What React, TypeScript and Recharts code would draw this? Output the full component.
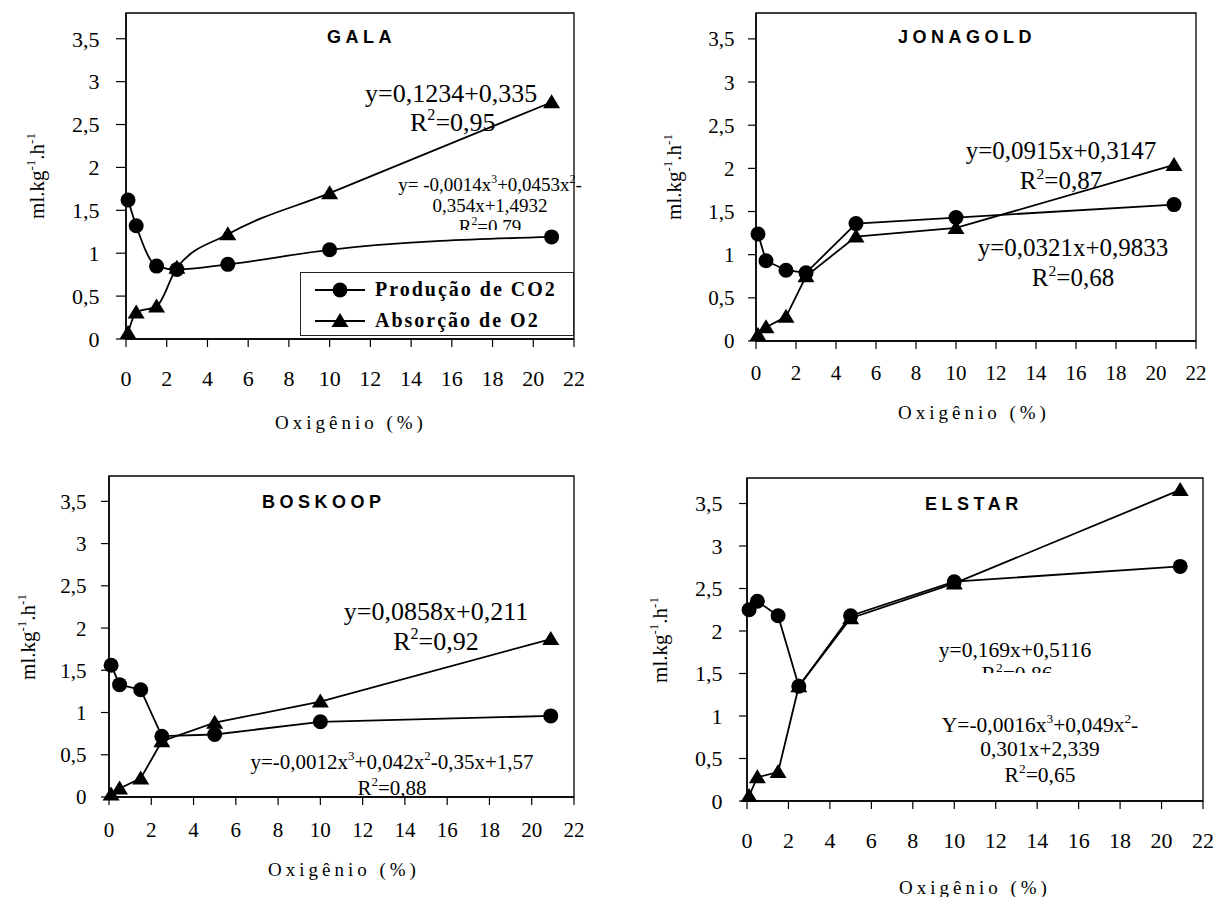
import React from "react";
import { LineChart, Line, XAxis, YAxis, ReferenceArea, Legend } from "recharts";

// oxygen levels (%) shared by all four cultivars
const oxygen = [0.1, 0.5, 1.5, 2.5, 5, 10, 20.9];

const galaCO2 = [1.62, 1.32, 0.85, 0.81, 0.87, 1.04, 1.19];
const galaO2 = [0.07, 0.31, 0.38, 0.83, 1.22, 1.7, 2.76];
const jonagoldCO2 = [1.24, 0.93, 0.82, 0.79, 1.36, 1.43, 1.58];
const jonagoldO2 = [0.07, 0.16, 0.28, 0.75, 1.21, 1.31, 2.04];
const boskoopCO2 = [1.56, 1.33, 1.27, 0.72, 0.74, 0.89, 0.96];
const boskoopO2 = [0.03, 0.1, 0.22, 0.66, 0.88, 1.13, 1.87];
const elstarCO2 = [2.25, 2.35, 2.18, 1.35, 2.18, 2.58, 2.76];
const elstarO2 = [0.06, 0.28, 0.34, 1.35, 2.15, 2.56, 3.66];

const xTicks = [0, 2, 4, 6, 8, 10, 12, 14, 16, 18, 20, 22];
const yTicks = [0, 0.5, 1, 1.5, 2, 2.5, 3, 3.5];
const yMax = 3.8;

const co2Name = "Produção de CO2";
const o2Name = "Absorção de O2";
const xTitle = "Oxigênio (%)";
const yTitle = "ml.kg^-1^.h^-1^";

const serif = '"Liberation Serif", "Times New Roman", serif';
const sans = '"Liberation Sans", Arial, sans-serif';

type Note = { text: string; x: number; y: number; size: number; anchor?: "start" | "middle"; clipY?: number };

type Panel = {
  name: string;
  co2: number[];
  o2: number[];
  curve: "linear" | "monotone";
  box: { left: number; top: number; width: number; height: number };
  margin: { top: number; right: number; left: number; bottom: number };
  yWidth: number;
  xHeight: number;
  tickFont: number;
  xTickMargin: number;
  yTickSize: number;
  yTickMargin: number;
  title: { x: number; y: number };
  xTitle: { x: number; y: number };
  yTitle: { x: number; y: number };
  notes: Note[];
  legend?: boolean;
};

const panels: Panel[] = [
  {
    name: "GALA",
    co2: galaCO2,
    o2: galaO2,
    curve: "monotone",
    box: { left: 0, top: 0, width: 609, height: 448 },
    margin: { top: 13, right: 35, left: 0, bottom: 9 },
    yWidth: 126,
    xHeight: 100,
    tickFont: 22,
    xTickMargin: 23.5,
    yTickSize: 10,
    yTickMargin: 16.5,
    title: { x: 327, y: 43 },
    xTitle: { x: 275, y: 429 },
    yTitle: { x: 44, y: 176 },
    legend: true,
    notes: [
      { text: "y=0,1234+0,335", x: 365, y: 102, size: 26, anchor: "start" },
      { text: "R^2^=0,95", x: 410, y: 131, size: 26, anchor: "start" },
      { text: "y= -0,0014x^3^+0,0453x^2^-", x: 490, y: 191, size: 19 },
      { text: "0,354x+1,4932", x: 490, y: 212, size: 19 },
      { text: "R^2^=0,79", x: 490, y: 233, size: 19, clipY: 230 },
    ],
  },
  {
    name: "JONAGOLD",
    co2: jonagoldCO2,
    o2: jonagoldO2,
    curve: "linear",
    box: { left: 609, top: 0, width: 609, height: 448 },
    margin: { top: 13, right: 22, left: 0, bottom: 7 },
    yWidth: 147,
    xHeight: 100,
    tickFont: 21,
    xTickMargin: 16.5,
    yTickSize: 8,
    yTickMargin: 13.5,
    title: { x: 898, y: 43 },
    xTitle: { x: 898, y: 419 },
    yTitle: { x: 681, y: 177 },
    notes: [
      { text: "y=0,0915x+0,3147", x: 1061, y: 159, size: 25 },
      { text: "R^2^=0,87", x: 1061, y: 189, size: 25 },
      { text: "y=0,0321x+0,9833", x: 1073, y: 256, size: 25 },
      { text: "R^2^=0,68", x: 1073, y: 286, size: 25 },
    ],
  },
  {
    name: "BOSKOOP",
    co2: boskoopCO2,
    o2: boskoopO2,
    curve: "linear",
    box: { left: 0, top: 448, width: 609, height: 449 },
    margin: { top: 28, right: 35, left: 0, bottom: 10 },
    yWidth: 109,
    xHeight: 90,
    tickFont: 21,
    xTickMargin: 17,
    yTickSize: 8,
    yTickMargin: 14.5,
    title: { x: 262, y: 508 },
    xTitle: { x: 268, y: 876 },
    yTitle: { x: 35, y: 637 },
    notes: [
      { text: "y=0,0858x+0,211", x: 436, y: 620, size: 26 },
      { text: "R^2^=0,92", x: 436, y: 650, size: 26 },
      { text: "y=-0,0012x^3^+0,042x^2^-0,35x+1,57", x: 392, y: 769, size: 21 },
      { text: "R^2^=0,88", x: 392, y: 795, size: 21 },
    ],
  },
  {
    name: "ELSTAR",
    co2: elstarCO2,
    o2: elstarO2,
    curve: "linear",
    box: { left: 609, top: 448, width: 609, height: 449 },
    margin: { top: 30, right: 15, left: 0, bottom: 6 },
    yWidth: 138,
    xHeight: 90,
    tickFont: 22,
    xTickMargin: 23.5,
    yTickSize: 8,
    yTickMargin: 16.5,
    title: { x: 925, y: 510 },
    xTitle: { x: 899, y: 894 },
    yTitle: { x: 667, y: 640 },
    notes: [
      { text: "y=0,169x+0,5116", x: 1015, y: 657, size: 21.5 },
      { text: "R^2^=0,86", x: 1017, y: 681, size: 21.5, clipY: 673 },
      { text: "Y=-0,0016x^3^+0,049x^2^-", x: 1040, y: 732, size: 21.5 },
      { text: "0,301x+2,339", x: 1040, y: 756, size: 21.5 },
      { text: "R^2^=0,65", x: 1040, y: 782, size: 21.5 },
    ],
  },
];

const comma = (v: number) => String(v).replace(".", ",");

// text with ^superscript^ parts
function RichText({ text, x, y, size, anchor = "middle", family = serif, clipPath, transform }: any) {
  const parts = text.split("^");
  const shift = size * 0.42;
  return (
    <text x={x} y={y} fontSize={size} textAnchor={anchor} fill="#000"
      clipPath={clipPath} transform={transform} style={{ fontFamily: family }}>
      {parts.map((p: string, i: number) =>
        i % 2 === 1 ? (
          <tspan key={i} dy={-shift} fontSize={size * 0.62}>{p}</tspan>
        ) : (
          <tspan key={i} dy={i > 0 ? shift : 0}>{p}</tspan>
        )
      )}
    </text>
  );
}

function Marker({ shape, cx, cy }: { shape: string; cx: number; cy: number }) {
  if (shape === "circle") return <circle cx={cx} cy={cy} r={7.5} fill="#000" />;
  return <path d={`M${cx},${cy - 8}L${cx + 8.5},${cy + 6}L${cx - 8.5},${cy + 6}Z`} fill="#000" />;
}

function LegendBox({ payload }: any) {
  // keep the series order (CO2 first), the library sorts by name otherwise
  const rows = [...(payload || [])].sort((a: any, b: any) => (a.dataKey === "co2" ? -1 : 1) - (b.dataKey === "co2" ? -1 : 1));
  return (
    <div style={{ boxSizing: "border-box", width: 274, height: 64, background: "#fff", border: "1.5px solid #222", paddingTop: 1 }}>
      {rows.map((entry: any) => (
        <div key={entry.value} style={{ display: "flex", alignItems: "center", height: 31 }}>
          <svg width={74} height={20} style={{ flex: "none" }}>
            <line x1={14} y1={10} x2={64} y2={10} stroke="#000" strokeWidth={1.8} />
            <Marker shape={entry.dataKey === "co2" ? "circle" : "triangle"} cx={39} cy={10} />
          </svg>
          <span style={{ fontFamily: serif, fontWeight: "bold", fontSize: 20, letterSpacing: 2, color: "#000" }}>
            {entry.value}
          </span>
        </div>
      ))}
    </div>
  );
}

function PanelChart({ p }: { p: Panel }) {
  const rows = oxygen.map((x, i) => ({ x, co2: p.co2[i], o2: p.o2[i] }));
  const tickStyle = { fill: "#000", fontSize: p.tickFont, fontFamily: serif, style: { fontFamily: serif } };
  return (
    <div style={{ position: "absolute", left: p.box.left, top: p.box.top }}>
      <LineChart width={p.box.width} height={p.box.height} data={rows} margin={p.margin}>
        <ReferenceArea x1={0} x2={22} y1={0} y2={yMax} fill="none" stroke="#000" strokeWidth={1.3} />
        <XAxis
          type="number"
          dataKey="x"
          domain={[0, 22]}
          ticks={xTicks}
          interval={0}
          height={p.xHeight}
          tickSize={8}
          tickMargin={p.xTickMargin}
          tick={tickStyle}
          axisLine={{ stroke: "#000", strokeWidth: 1.5 }}
          tickLine={{ stroke: "#000", strokeWidth: 1.2 }}
        />
        <YAxis
          type="number"
          domain={[0, yMax]}
          ticks={yTicks}
          interval={0}
          width={p.yWidth}
          tickSize={p.yTickSize}
          tickMargin={p.yTickMargin}
          tickFormatter={comma}
          tick={tickStyle}
          axisLine={{ stroke: "#000", strokeWidth: 1.5 }}
          tickLine={{ stroke: "#000", strokeWidth: 1.2 }}
        />
        <Line
          type={p.curve}
          dataKey="co2"
          name={co2Name}
          stroke="#000"
          strokeWidth={1.8}
          isAnimationActive={false}
          activeDot={false}
          dot={(d: any) => <Marker key={`c${d.index}`} shape="circle" cx={d.cx} cy={d.cy} />}
        />
        <Line
          type={p.curve}
          dataKey="o2"
          name={o2Name}
          stroke="#000"
          strokeWidth={1.8}
          isAnimationActive={false}
          activeDot={false}
          dot={(d: any) => <Marker key={`t${d.index}`} shape="triangle" cx={d.cx} cy={d.cy} />}
        />
        {p.legend && (
          <Legend
            layout="vertical"
            align="center"
            verticalAlign="middle"
            wrapperStyle={{ left: 300, top: 272, width: 274, height: 64 }}
            content={(props: any) => <LegendBox payload={props.payload} />}
          />
        )}
      </LineChart>
    </div>
  );
}

export default function App() {
  return (
    <div style={{ position: "fixed", left: 0, top: 0, width: 1218, height: 897, background: "#fff", overflow: "hidden" }}>
      {panels.map((p) => (
        <PanelChart key={p.name} p={p} />
      ))}
      <svg width={1218} height={897} style={{ position: "absolute", left: 0, top: 0, pointerEvents: "none" }}>
        <defs>
          {panels.map((p) =>
            p.notes.map((n, i) =>
              n.clipY ? (
                <clipPath key={`${p.name}-${i}`} id={`clip-${p.name}-${i}`}>
                  <rect x={0} y={0} width={1218} height={n.clipY} />
                </clipPath>
              ) : null
            )
          )}
        </defs>
        {panels.map((p) => (
          <g key={p.name}>
            <text x={p.title.x} y={p.title.y} fontWeight="bold" fontSize={18} fill="#000" style={{ fontFamily: sans, letterSpacing: 4.5 }}>
              {p.name}
            </text>
            <text x={p.xTitle.x} y={p.xTitle.y} fontSize={19} fill="#000" style={{ fontFamily: serif, letterSpacing: 4 }}>
              {xTitle}
            </text>
            <RichText text={yTitle} x={p.yTitle.x} y={p.yTitle.y} size={21} transform={`rotate(-90 ${p.yTitle.x} ${p.yTitle.y})`} />
            {p.notes.map((n, i) => (
              <RichText
                key={i}
                text={n.text}
                x={n.x}
                y={n.y}
                size={n.size}
                anchor={n.anchor || "middle"}
                clipPath={n.clipY ? `url(#clip-${p.name}-${i})` : undefined}
              />
            ))}
          </g>
        ))}
      </svg>
    </div>
  );
}
